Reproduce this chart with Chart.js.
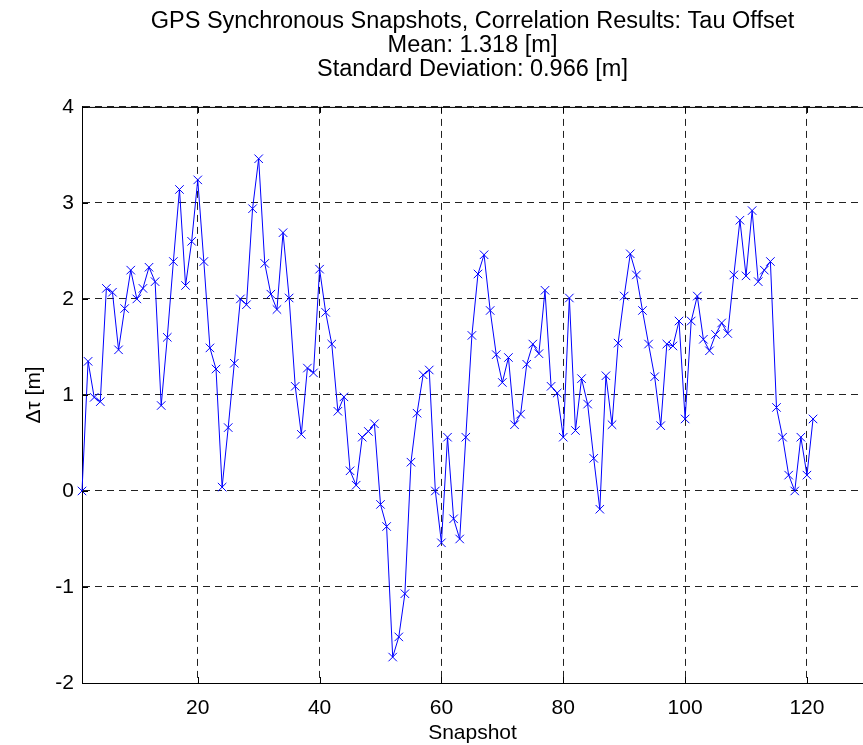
<!DOCTYPE html>
<html>
<head>
<meta charset="utf-8">
<script src="https://cdn.jsdelivr.net/npm/chart.js@4"></script>
<style>
  html, body { margin: 0; padding: 0; background: #fff; overflow: hidden; }
  #wrap { width: 863px; height: 745px; overflow: hidden; }
</style>
</head>
<body>
<div id="wrap"><canvas id="chart" width="870" height="745"></canvas></div>
<script>
// tau offset per snapshot
const tauOffset = [
  0.00, 1.35, 0.975, 0.93, 2.11, 2.07, 1.47, 1.90, 2.30, 2.00,
  2.11, 2.33, 2.18, 0.89, 1.60, 2.39, 3.14, 2.14, 2.60, 3.24,
  2.39, 1.49, 1.27, 0.04, 0.66, 1.33, 2.00, 1.94, 2.94, 3.46,
  2.37, 2.05, 1.89, 2.69, 2.01, 1.09, 0.59, 1.28, 1.23, 2.31,
  1.86, 1.53, 0.83, 0.98, 0.21, 0.06, 0.56, 0.62, 0.70, -0.14,
  -0.37, -1.73, -1.52, -1.07, 0.30, 0.81, 1.21, 1.26, 0.00, -0.54,
  0.56, -0.29, -0.50, 0.56, 1.62, 2.26, 2.46, 1.88, 1.42, 1.13,
  1.39, 0.69, 0.80, 1.32, 1.53, 1.43, 2.09, 1.09, 1.02, 0.56,
  2.01, 0.63, 1.17, 0.905, 0.34, -0.19, 1.20, 0.69, 1.54, 2.03,
  2.47, 2.25, 1.88, 1.53, 1.19, 0.68, 1.53, 1.51, 1.77, 0.75,
  1.77, 2.03, 1.58, 1.46, 1.63, 1.75, 1.64, 2.25, 2.82, 2.24,
  2.92, 2.18, 2.30, 2.39, 0.87, 0.56, 0.165, 0.00, 0.56, 0.165,
  0.75
];
const xTicks = [20, 40, 60, 80, 100, 120];
const yTicks = [-2, -1, 0, 1, 2, 3, 4];
const titleLines = [
  "GPS Synchronous Snapshots, Correlation Results: Tau Offset",
  "Mean: 1.318 [m]",
  "Standard Deviation: 0.966 [m]"
];

const points = tauOffset.map((v, i) => ({ x: i + 1, y: v }));
const FONT = "'Liberation Sans', Arial, sans-serif";

// matlab style box: top line + small inward ticks
const boxPlugin = {
  id: "box",
  afterDraw(chart) {
    const ctx = chart.ctx;
    const a = chart.chartArea;
    const xs = chart.scales.x, ys = chart.scales.y;
    ctx.save();
    ctx.strokeStyle = "#000";
    ctx.lineWidth = 1;
    ctx.setLineDash([]);
    ctx.beginPath();
    ctx.moveTo(a.left, a.top + 0.5);
    ctx.lineTo(a.right, a.top + 0.5);
    xTicks.forEach(t => {
      const px = Math.round(xs.getPixelForValue(t)) + 0.5;
      ctx.moveTo(px, a.bottom); ctx.lineTo(px, a.bottom - 6);
      ctx.moveTo(px, a.top); ctx.lineTo(px, a.top + 6);
    });
    yTicks.forEach(t => {
      const py = Math.round(ys.getPixelForValue(t)) + 0.5;
      ctx.moveTo(a.left, py); ctx.lineTo(a.left + 6, py);
    });
    ctx.stroke();
    ctx.restore();
  }
};

new Chart(document.getElementById("chart"), {
  type: "line",
  data: {
    datasets: [{
      data: points,
      borderColor: "#0000ff",
      borderWidth: 1,
      pointStyle: "crossRot",
      pointRadius: 6,
      pointBorderWidth: 1,
      pointBorderColor: "#0000ff",
      pointBackgroundColor: "#0000ff",
      tension: 0,
      clip: false
    }]
  },
  options: {
    responsive: false,
    animation: false,
    layout: { padding: { left: 0, right: 0, top: 0, bottom: 0 } },
    plugins: {
      legend: { display: false },
      tooltip: { enabled: false },
      title: {
        display: true,
        fullSize: false,
        text: titleLines,
        color: "#000",
        font: { family: FONT, size: 23.5, weight: "normal", lineHeight: 1.02 },
        padding: { top: 10, bottom: 25 }
      }
    },
    scales: {
      x: {
        type: "linear",
        min: 1,
        max: 129.2,
        afterBuildTicks: s => { s.ticks = xTicks.map(v => ({ value: v })); },
        afterFit: s => { s.height = 62; },
        ticks: { color: "#000", font: { family: FONT, size: 21 }, padding: 13, maxRotation: 0 },
        grid: { color: "#222", lineWidth: 1, drawTicks: false, tickLength: 0 },
        border: { display: true, color: "#000", width: 1, dash: [7, 5] },
        title: { display: true, text: "Snapshot", color: "#000", font: { family: FONT, size: 21 }, padding: { top: 2, bottom: -1 } }
      },
      y: {
        type: "linear",
        min: -2,
        max: 4,
        afterBuildTicks: s => { s.ticks = yTicks.map(v => ({ value: v })); },
        afterFit: s => { s.width = 82; },
        ticks: { color: "#000", font: { family: FONT, size: 21 }, padding: 8 },
        grid: { color: "#222", lineWidth: 1, drawTicks: false, tickLength: 0 },
        border: { display: true, color: "#000", width: 1, dash: [7, 5] },
        title: { display: true, text: "Δτ [m]", color: "#000", font: { family: FONT, size: 21 }, padding: { top: 22, bottom: 4 } }
      }
    }
  },
  plugins: [boxPlugin]
});
</script>
</body>
</html>
